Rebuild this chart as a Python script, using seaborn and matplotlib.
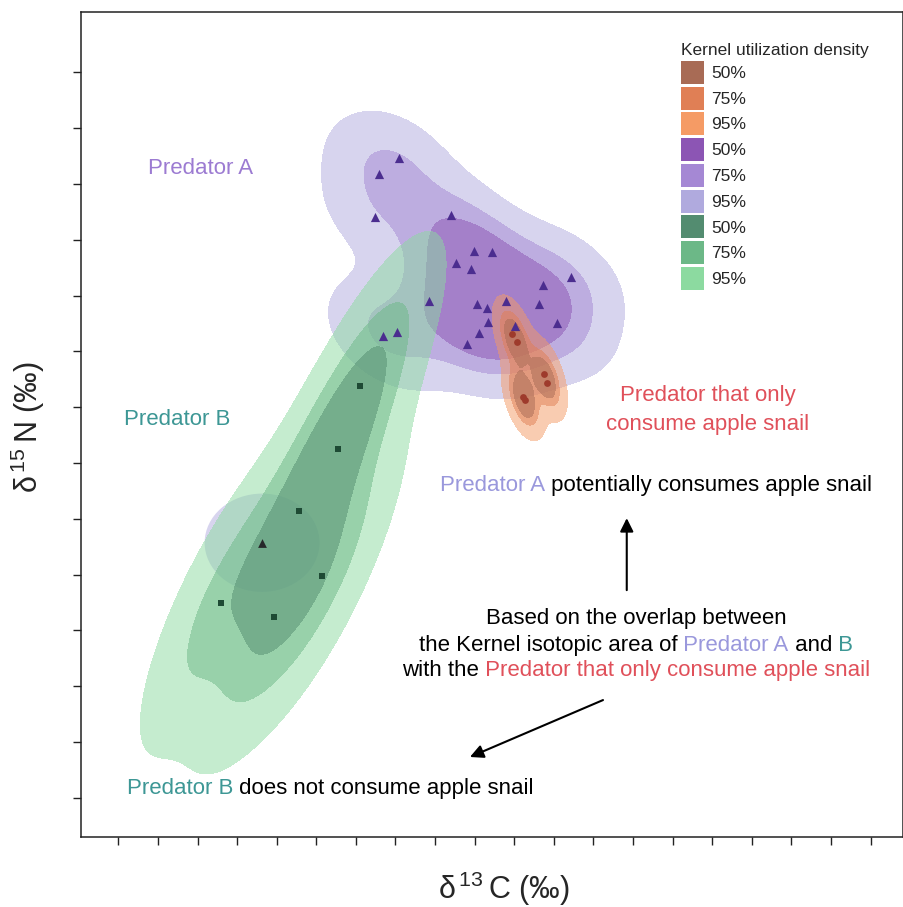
import numpy as np
import pandas as pd
import matplotlib
matplotlib.use("Agg")
import matplotlib.pyplot as plt
from matplotlib.patches import Patch, Ellipse
from matplotlib.colors import ListedColormap
import seaborn as sns

# ---------------- data (arbitrary isotope units) ----------------
predA_x = [7.10, 6.59, 6.49, 8.40, 8.97, 9.43, 8.53, 8.90, 11.42, 10.73, 7.85,
           9.06, 9.30, 9.79, 10.62, 9.33, 11.08, 10.03, 9.11, 6.68, 7.03, 8.80]
predA_y = [11.46, 11.18, 10.41, 10.44, 9.80, 9.78, 9.59, 9.47, 9.33, 9.18, 8.90,
           8.84, 8.78, 8.90, 8.85, 8.53, 8.50, 8.45, 8.32, 8.28, 8.35, 8.13]
predA_out_x = [3.63]
predA_out_y = [4.57]

predB_x = [6.10, 5.54, 4.56, 5.14, 2.59, 3.92]
predB_y = [7.37, 6.25, 5.14, 3.97, 3.49, 3.24]

snail_x = [9.95, 10.06, 10.75, 10.82, 10.21, 10.26]
snail_y = [8.31, 8.16, 7.59, 7.44, 7.19, 7.13]

x_ticks = list(range(0, 20))
y_ticks = list(range(0, 14))

levels_pct = ["50%", "75%", "95%"]
iso_levels = [0.5, 0.25, 0.05]

col_snail = ["#a86b55", "#e07f55", "#f59b65"]
col_A = ["#8c55b4", "#a588d4", "#b0aade"]
col_B = ["#538c70", "#6cb887", "#8cdaa0"]

# ---------------- figure ----------------
sns.set_theme(style="ticks")
plt.rcParams["font.family"] = ["Liberation Sans", "DejaVu Sans"]
plt.rcParams["mathtext.fontset"] = "custom"
plt.rcParams["mathtext.rm"] = "Liberation Sans"

fig = plt.figure(figsize=(9.04, 9.07), dpi=100)
ax = fig.add_axes([81 / 904, 1 - 837 / 907, 822 / 904, 825 / 907])

ALPHA = 0.5


def kde_stack(xs, ys, cols, bw):
    # draw 95% then 75% then 50% regions, stacked with transparency
    df = pd.DataFrame({"x": xs, "y": ys})
    for lv, c in zip(iso_levels[::-1], cols[::-1]):
        sns.kdeplot(data=df, x="x", y="y", fill=True, levels=[lv, 1],
                    cmap=ListedColormap([c]), alpha=ALPHA, bw_adjust=bw,
                    gridsize=250, cut=4, ax=ax)


kde_stack(predA_x, predA_y, col_A, 1.02)
# isolated 95% island around the lone Predator A point
ax.add_patch(Ellipse((predA_out_x[0], predA_out_y[0]), 2.9, 1.76,
                     facecolor=col_A[2], alpha=ALPHA, edgecolor="none"))
sns.scatterplot(x=predA_out_x, y=predA_out_y, marker="^", s=40,
                color="#26282a", linewidth=0, ax=ax, zorder=5)
kde_stack(predB_x, predB_y, col_B, 1.18)
kde_stack(snail_x, snail_y, col_snail, 0.95)

sns.scatterplot(x=predA_x, y=predA_y, marker="^", s=44, color="#4b2d8f",
                linewidth=0, ax=ax, zorder=5)
sns.scatterplot(x=predB_x, y=predB_y, marker="s", s=20, color="#1e4a34",
                linewidth=0, ax=ax, zorder=5)
sns.scatterplot(x=snail_x, y=snail_y, marker="o", s=24, color="#9e3b2c",
                linewidth=0, ax=ax, zorder=5)

ax.set_xlim(-0.942, 19.816)
ax.set_ylim(-0.704, 14.081)
ax.set_xticks(x_ticks)
ax.set_yticks(y_ticks)
ax.set_xticklabels([])
ax.set_yticklabels([])
ax.tick_params(direction="out", length=6, width=1.0, color="#222222")
for sp in ax.spines.values():
    sp.set_visible(True)
    sp.set_color("#222222")
    sp.set_linewidth(1.1)

ax.set_xlabel("δ$^{\\,\\mathregular{13}}\\,$C (‰)", fontsize=22, va="center", ha="center")
ax.set_ylabel("δ$^{\\,\\mathregular{15}}\\,$N (‰)", fontsize=22, va="center", ha="center")
ax.xaxis.set_label_coords(0.515, -0.0625)
ax.yaxis.set_label_coords(-0.0645, 0.497)

# ---------------- annotations ----------------
C_A1 = "#9c7bd2"
C_A2 = "#9a98dc"
C_B = "#3d9795"
C_R = "#e0505a"
FS = 16
renderer = fig.canvas.get_renderer()


def rich_line(x, y, pieces, ha="left"):
    arts = []
    prev = None
    for txt, col in pieces:
        if prev is None:
            t = ax.text(x, y, txt, color=col, ha="left", va="center", fontsize=FS)
        else:
            t = ax.annotate(txt, xy=(1, 0), xycoords=prev, xytext=(0, 0),
                            textcoords="offset points", ha="left", va="bottom",
                            color=col, fontsize=FS)
        arts.append(t)
        prev = t
    if ha == "center":
        fig.canvas.draw()
        b0 = arts[0].get_window_extent(renderer)
        b1 = arts[-1].get_window_extent(renderer)
        w = b1.x1 - b0.x0
        disp = ax.transData.transform((x, y))
        nx = ax.transData.inverted().transform((disp[0] - w / 2, disp[1]))[0]
        arts[0].set_x(nx)
    return arts


ax.text(0.75, 11.285, "Predator A", color=C_A1, fontsize=FS, va="center")
ax.text(0.146, 6.77, "Predator B", color=C_B, fontsize=FS, va="center")
ax.text(14.89, 6.957, "Predator that only\nconsume apple snail", color=C_R,
        fontsize=FS, ha="center", va="center", linespacing=1.5)

rich_line(8.12, 5.60, [("Predator A", C_A2), (" potentially consumes apple snail", "black")])
rich_line(13.07, 3.218, [("Based on the overlap between", "black")], ha="center")
rich_line(13.07, 2.72, [("the Kernel isotopic area of", "black"), (" Predator A", C_A2),
                        (" and", "black"), (" B", C_B)], ha="center")
rich_line(13.07, 2.285, [("with the", "black"),
                         (" Predator that only consume apple snail", C_R)], ha="center")
rich_line(0.22, 0.174, [("Predator B", C_B), (" does not consume apple snail", "black")])

ax.annotate("", xy=(12.84, 5.01), xytext=(12.84, 3.72),
            arrowprops=dict(arrowstyle="-|>", color="black", lw=1.5,
                            mutation_scale=20, shrinkA=0, shrinkB=0))
ax.annotate("", xy=(8.88, 0.73), xytext=(12.24, 1.75),
            arrowprops=dict(arrowstyle="-|>", color="black", lw=1.5,
                            mutation_scale=20, shrinkA=0, shrinkB=0))

# ---------------- legend ----------------
handles = [Patch(facecolor=c, edgecolor="none") for c in col_snail + col_A + col_B]
labels = levels_pct * 3
fig.legend(handles, labels, title="Kernel utilization density", loc="upper left",
           bbox_to_anchor=(681 / 904, 1 - 43 / 907), frameon=False, fontsize=12.5,
           title_fontsize=12.5, borderpad=0, borderaxespad=0, handlelength=1.32,
           handleheight=1.66, labelspacing=0.16, handletextpad=0.4, alignment="left")

fig.savefig("out.png", dpi=100)
